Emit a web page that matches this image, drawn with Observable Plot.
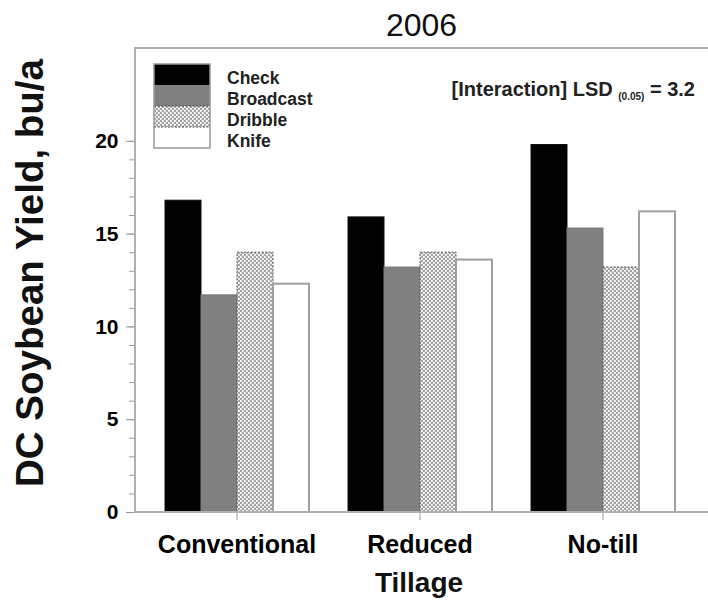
<!DOCTYPE html>
<html><head><meta charset="utf-8">
<script src="https://cdn.jsdelivr.net/npm/d3@7"></script>
<script src="https://cdn.jsdelivr.net/npm/@observablehq/plot@0.6"></script>
<style>body{margin:0;background:#fff;} #chart{width:708px;height:604px;}</style>
</head><body><div id="chart"></div>
<script>
const tillage = ["Conventional", "Reduced", "No-till"];
const treatments = ["Check", "Broadcast", "Dribble", "Knife"];
const checkYield = [16.8, 15.9, 19.8];
const broadcastYield = [11.7, 13.2, 15.3];
const dribbleYield = [14.0, 14.0, 13.2];
const knifeYield = [12.3, 13.6, 16.2];
const yTicks = [0, 5, 10, 15, 20];
const yMinorTicks = [0,1,2,3,4,5,6,7,8,9,10,11,12,13,14,15,16,17,18,19,20];
const yDomain = [0, 25];
const titleText = "2006";
const yLabel = "DC Soybean Yield, bu/a";
const xLabel = "Tillage";
const lsdLabel = "[Interaction] LSD";
const lsdSub = "(0.05)";
const lsdValue = "= 3.2";

const series = [checkYield, broadcastYield, dribbleYield, knifeYield];
const data = [];
tillage.forEach((t, i) => treatments.forEach((tr, j) => data.push({tillage: t, treatment: tr, yield: series[j][i]})));

const fills = {Check: "#000", Broadcast: "#808080", Dribble: "url(#dribble)", Knife: "#fff"};
const strokes = {Check: "#111", Broadcast: "#7a7a7a", Dribble: "#555", Knife: "#a0a0a0"};
const FONT = "'Liberation Sans', Arial, sans-serif";

const chart = Plot.plot({
  width: 708, height: 604,
  marginLeft: 135, marginRight: 24, marginTop: 48, marginBottom: 92,
  style: {fontFamily: FONT, fontWeight: "bold", background: "#fff", color: "#000"},
  fx: {domain: tillage, paddingInner: 0, paddingOuter: 0, label: null},
  x: {domain: treatments, paddingInner: 0, paddingOuter: 0.49, align: 0.78, axis: null},
  y: {domain: yDomain},
  marks: [
    ...treatments.map(tr => Plot.barY(data, {
      filter: d => d.treatment === tr,
      fx: "tillage", x: "treatment", y: "yield",
      fill: fills[tr], stroke: strokes[tr],
      strokeWidth: tr === "Knife" ? 2 : 1,
      strokeDasharray: tr === "Dribble" ? "2,1.5" : "none"
    })),
    Plot.axisY(yMinorTicks, {tickSize: 6, text: null, stroke: "#999", label: null}),
    Plot.axisY(yTicks, {tickSize: 9, tickPadding: 8, stroke: "#999", fontSize: 21, label: null}),
    Plot.axisFx({anchor: "bottom", tickSize: 8, tickPadding: 15, fontSize: 25, label: null, stroke: "#999", dx: 10})
  ]
});
document.getElementById("chart").appendChild(chart);

// decorations
const svg = d3.select(chart);
const ys = chart.scale("y");
const yTop = ys.apply(yDomain[1]), yBot = ys.apply(yDomain[0]);
const left = 135, right = 708;

const defs = svg.insert("defs", ":first-child");
const pat = defs.append("pattern").attr("id", "dribble").attr("patternUnits", "userSpaceOnUse")
  .attr("width", 4).attr("height", 4);
pat.append("rect").attr("width", 4).attr("height", 4).attr("fill", "#a4a4a4");
pat.append("rect").attr("x", 0).attr("y", 0).attr("width", 1.8).attr("height", 1.8).attr("fill", "#fff");
pat.append("rect").attr("x", 2).attr("y", 2).attr("width", 1.8).attr("height", 1.8).attr("fill", "#fff");

const g = svg.append("g").attr("font-family", FONT).attr("text-anchor", "start");
g.append("line").attr("x1", left).attr("x2", left).attr("y1", yTop - 1).attr("y2", yBot + 1).attr("stroke", "#b0b0b0").attr("stroke-width", 2);
g.append("line").attr("x1", left).attr("x2", right).attr("y1", yTop).attr("y2", yTop).attr("stroke", "#b0b0b0").attr("stroke-width", 2);
g.append("line").attr("x1", left).attr("x2", right).attr("y1", yBot).attr("y2", yBot).attr("stroke", "#b0b0b0").attr("stroke-width", 2);

// title
g.append("text").attr("x", (left + right) / 2).attr("y", 36).attr("text-anchor", "middle")
  .attr("font-size", 32).attr("font-weight", "normal").attr("fill", "#111").text(titleText);
// y label
g.append("text").attr("transform", `translate(43,${(yTop + yBot) / 2 - 7}) rotate(-90)`)
  .attr("text-anchor", "middle").attr("font-size", 38.5).attr("font-weight", "bold").attr("fill", "#111").text(yLabel);
// x label
g.append("text").attr("x", 419).attr("y", 592).attr("text-anchor", "middle")
  .attr("font-size", 28).attr("font-weight", "bold").attr("fill", "#111").text(xLabel);

// legend
const lg = g.append("g").attr("transform", "translate(154,64)");
const sw = 56, sh = 21;
treatments.forEach((tr, i) => {
  lg.append("rect").attr("x", 0).attr("y", i * sh).attr("width", sw).attr("height", sh).attr("fill", fills[tr]);
  lg.append("text").attr("x", 73).attr("y", i * sh + 20).attr("text-anchor", "start").attr("font-size", 17.5).attr("font-weight", "bold")
    .attr("fill", "#222").text(tr);
});
lg.append("line").attr("x1", 0).attr("x2", sw).attr("y1", 2 * sh).attr("y2", 2 * sh).attr("stroke", "#444").attr("stroke-dasharray", "2,1.5");
lg.append("line").attr("x1", 0).attr("x2", sw).attr("y1", 3 * sh).attr("y2", 3 * sh).attr("stroke", "#444").attr("stroke-dasharray", "2,1.5");
lg.append("rect").attr("x", 0).attr("y", 0).attr("width", sw).attr("height", 4 * sh).attr("fill", "none").attr("stroke", "#999").attr("stroke-width", 1.5);

// LSD
const t = g.append("text").attr("x", 695).attr("y", 96).attr("text-anchor", "end").attr("font-size", 20)
  .attr("font-weight", "bold").attr("fill", "#222");
t.append("tspan").text(lsdLabel + " ");
t.append("tspan").attr("font-size", 10).attr("dy", 4).text(lsdSub);
t.append("tspan").attr("dy", -4).text(" " + lsdValue);
</script>
</body></html>
